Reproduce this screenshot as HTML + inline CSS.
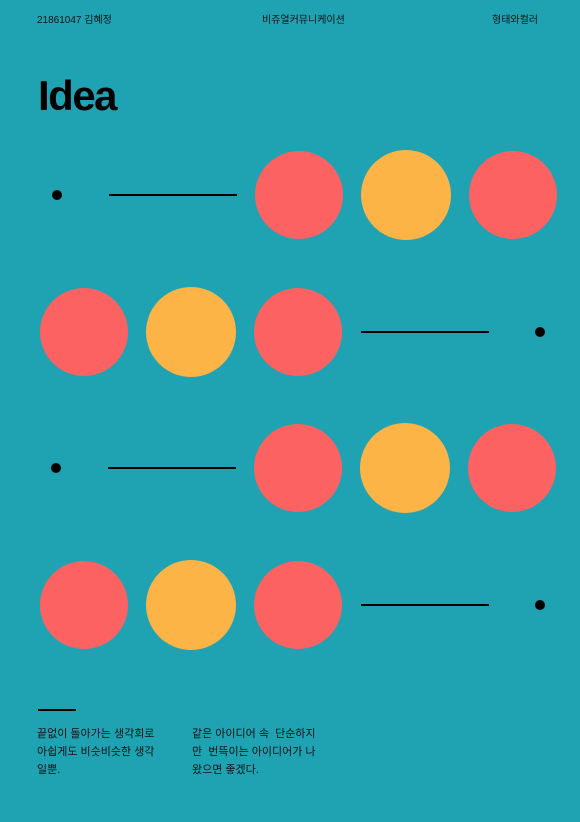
<!DOCTYPE html>
<html><head><meta charset="utf-8"><style>
body{margin:0;width:580px;height:822px;background:#1fa3b3;position:relative;overflow:hidden;font-family:"Liberation Sans","Noto Sans CJK KR",sans-serif;color:#111}
.t{position:absolute;font-size:10px;top:11px}
.p{position:absolute;font-size:11px;line-height:18px;top:725px;white-space:nowrap}
</style></head><body>
<div class="t" style="left:37px">21861047 김혜정</div>
<div class="t" style="left:262px">비쥬얼커뮤니케이션</div>
<div class="t" style="left:492px">형태와컬러</div>
<div style="position:absolute;left:38px;top:72px;font-size:42px;font-weight:bold;color:#000;letter-spacing:-1.5px">Idea</div>
<svg width="580" height="822" style="position:absolute;left:0;top:0">
<g id="g"></g>
</svg>
<div style="position:absolute;left:38px;top:709px;width:38px;height:2px;background:#000"></div>
<div class="p" style="left:37px">끝없이 돌아가는 생각회로<br>아쉽게도 비슷비슷한 생각<br>일뿐.</div>
<div class="p" style="left:192px">같은 아이디어 속 &nbsp;단순하지<br>만 &nbsp;번뜩이는 아이디어가 나<br>왔으면 좋겠다.</div>
<script>
const rows=[
 {y:195,dot:57,line:[109,237],c:[[299,'#fc6262',44],[406,'#fdb447',45],[513,'#fc6262',44]]},
 {y:332,dot:540,line:[361,489],c:[[84,'#fc6262',44],[191,'#fdb447',45],[298,'#fc6262',44]]},
 {y:468,dot:56,line:[108,236],c:[[298,'#fc6262',44],[405,'#fdb447',45],[512,'#fc6262',44]]},
 {y:605,dot:540,line:[361,489],c:[[84,'#fc6262',44],[191,'#fdb447',45],[298,'#fc6262',44]]}];
const g=document.getElementById('g'),ns='http://www.w3.org/2000/svg';
rows.forEach((r,i)=>{
 r.c.forEach(([x,f,rad],j)=>{const e=document.createElementNS(ns,'circle');e.setAttribute('cx',x);e.setAttribute('cy',r.y);e.setAttribute('r',rad);e.setAttribute('fill',f);
 
 g.appendChild(e);});
 const d=document.createElementNS(ns,'circle');d.setAttribute('cx',r.dot);d.setAttribute('cy',r.y);d.setAttribute('r',5);d.setAttribute('fill','#000');
 
 g.appendChild(d);
 const l=document.createElementNS(ns,'line');l.setAttribute('x1',r.line[0]);l.setAttribute('x2',r.line[1]);l.setAttribute('y1',r.y);l.setAttribute('y2',r.y);l.setAttribute('stroke','#000');l.setAttribute('stroke-width',2);
 
 g.appendChild(l);
});
</script>
</body></html>
